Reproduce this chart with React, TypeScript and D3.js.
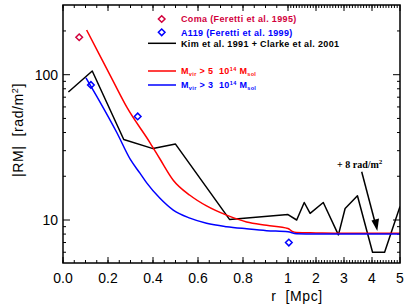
import React from 'react';
import * as d3 from 'd3';

// Kim et al. 1991 + Clarke et al. 2001 (observed |RM| profile)
const kimR = [0.024, 0.13, 0.27, 0.40, 0.50, 0.74, 1.0, 1.31, 1.58, 1.79, 2.26, 2.80, 3.04, 3.48, 4.02, 4.45, 5.0];
const kimRM = [76, 106, 35.8, 31, 33.3, 10.1, 10.9, 10.0, 13.2, 11.1, 13.2, 7.9, 12.0, 14.7, 6.0, 6.0, 12.4];

// simulated clusters, M_vir > 5 10^14 M_sol
const hiR = [0.105, 0.16, 0.22, 0.283, 0.387, 0.431, 0.49, 0.564, 0.638, 0.727, 0.816, 0.905, 1.0, 1.15, 1.3, 2, 3, 4, 5];
const hiRM = [203, 139, 92, 60, 34, 26.3, 18.8, 14.8, 12.5, 10.8, 9.7, 9.2, 8.75, 8.35, 8.2, 8.15, 8.1, 8.1, 8.1];

// simulated clusters, M_vir > 3 10^14 M_sol
const loR = [0.102, 0.164, 0.239, 0.30, 0.342, 0.372, 0.431, 0.49, 0.564, 0.638, 0.727, 0.816, 0.905, 1.0, 1.3, 2, 3, 4, 5];
const loRM = [95, 65, 40, 26, 21, 18, 14.1, 11.7, 10.3, 9.5, 9.0, 8.7, 8.45, 8.3, 8.05, 8.0, 8.0, 8.0, 8.0];

// point measurements
const comaR = [0.072];
const comaRM = [181];
const a119R = [0.124, 0.332, 1.03];
const a119RM = [85, 51.6, 7.0];

// axis ticks
const xMajor = [0, 0.2, 0.4, 0.6, 0.8, 1, 2, 3, 4, 5];
const xLabels = ['0.0', '0.2', '0.4', '0.6', '0.8', '1', '2', '3', '4', '5'];
const yMajor = [10, 100];
const yLabels = ['10', '100'];
const yMinor = [6, 7, 8, 9, 20, 30, 40, 50, 60, 70, 80, 90, 200];

const W = 407;
const H = 308;
const margin = { top: 5, right: 7, bottom: 45, left: 63 };
const COMA = '#d2003c';
const BLUE = '#0000ff';
const RED = '#ff0000';
const FONT = '"Liberation Sans", Arial, Helvetica, sans-serif';
const NB = '\u00a0';

const x = d3.scaleLinear().domain([0, 1, 5]).range([margin.left, 288, W - margin.right]);
const y = d3.scaleLog().domain([5.06, 301.7]).range([H - margin.bottom, margin.top]);

const xMinor = [...d3.range(0, 1, 0.05), ...d3.range(1, 5, 0.1)];

const line = d3.line<[number, number]>()
  .x(d => x(d[0]))
  .y(d => y(d[1]));

const smooth = d3.line<[number, number]>()
  .x(d => x(d[0]))
  .y(d => y(d[1]))
  .curve(d3.curveMonotoneX);

const zip = (a: number[], b: number[]) => a.map((v, i) => [v, b[i]] as [number, number]);

const Diamond = ({ cx, cy, color }: { cx: number; cy: number; color: string }) => {
  const s = 3.3;
  return (
    <path
      d={`M${cx},${cy - s}L${cx + s},${cy}L${cx},${cy + s}L${cx - s},${cy}Z`}
      fill="none"
      stroke={color}
      strokeWidth={1.5}
    />
  );
};

const MassLabel = ({ yy, color, m }: { yy: number; color: string; m: string }) => (
  <text x={181} y={yy} fill={color}>
    M<tspan dy={2} fontSize={5.5}>vir</tspan>
    <tspan dy={-2}>{` > ${m}${NB}${NB}10`}</tspan>
    <tspan dy={-3} fontSize={5.5}>14</tspan>
    <tspan dy={3}>{`${NB}M`}</tspan>
    <tspan dy={2} fontSize={5.5}>sol</tspan>
  </text>
);

const App = () => {
  const x0 = margin.left;
  const x1 = W - margin.right;
  const y0 = margin.top;
  const y1 = H - margin.bottom;

  return (
    <svg width={W} height={H} style={{ position: 'absolute', left: 0, top: 0, background: '#fff' }}>
      <defs>
        <clipPath id="plot">
          <rect x={x0} y={y0} width={x1 - x0} height={y1 - y0} />
        </clipPath>
      </defs>

      {/* ticks */}
      <g stroke="#000" strokeWidth={1}>
        {xMinor.map((v, i) => (
          <g key={'xm' + i}>
            <line x1={x(v)} x2={x(v)} y1={y1} y2={y1 - 3} />
            <line x1={x(v)} x2={x(v)} y1={y0} y2={y0 + 3} />
          </g>
        ))}
        {xMajor.map((v, i) => (
          <g key={'xM' + i}>
            <line x1={x(v)} x2={x(v)} y1={y1} y2={y1 - 6} />
            <line x1={x(v)} x2={x(v)} y1={y0} y2={y0 + 6} />
          </g>
        ))}
        {yMinor.map((v, i) => (
          <g key={'ym' + i}>
            <line x1={x0} x2={x0 + 3} y1={y(v)} y2={y(v)} />
            <line x1={x1} x2={x1 - 3} y1={y(v)} y2={y(v)} />
          </g>
        ))}
        {yMajor.map((v, i) => (
          <g key={'yM' + i}>
            <line x1={x0} x2={x0 + 7} y1={y(v)} y2={y(v)} />
            <line x1={x1} x2={x1 - 7} y1={y(v)} y2={y(v)} />
          </g>
        ))}
      </g>

      {/* data */}
      <g clipPath="url(#plot)" fill="none" strokeWidth={1.5} strokeLinejoin="round">
        <path d={line(zip(kimR, kimRM)) || ''} stroke="#000" />
        <path d={smooth(zip(hiR, hiRM)) || ''} stroke={RED} />
        <path d={smooth(zip(loR, loRM)) || ''} stroke={BLUE} />
      </g>
      {comaR.map((r, i) => (
        <Diamond key={'c' + i} cx={x(r)} cy={y(comaRM[i])} color={COMA} />
      ))}
      {a119R.map((r, i) => (
        <Diamond key={'a' + i} cx={x(r)} cy={y(a119RM[i])} color={BLUE} />
      ))}

      {/* frame */}
      <rect x={x0} y={y0} width={x1 - x0} height={y1 - y0} fill="none" stroke="#000" strokeWidth={1.5} />

      {/* tick labels */}
      <g fontFamily={FONT} fontSize={14} fill="#000">
        {xMajor.map((v, i) => (
          <text key={'xl' + i} x={x(v)} y={283} textAnchor="middle">{xLabels[i]}</text>
        ))}
        {yMajor.map((v, i) => (
          <text key={'yl' + i} x={58} y={y(v) + 5} textAnchor="end">{yLabels[i]}</text>
        ))}
        <text x={297} y={301} textAnchor="middle" letterSpacing={0.6}>{`r${NB}${NB}[Mpc]`}</text>
        <text transform="translate(23,130) rotate(-90)" textAnchor="middle" letterSpacing={0.6}>
          {`|RM|${NB}${NB}[rad/m`}<tspan dy={-5} fontSize={9}>2</tspan><tspan dy={5}>]</tspan>
        </text>
      </g>

      {/* legend */}
      <g fontFamily={FONT} fontSize={9} fontWeight="bold" letterSpacing={0.35}>
        <Diamond cx={161.7} cy={19} color={COMA} />
        <text x={181} y={22} fill={COMA}>Coma (Feretti et al. 1995)</text>
        <Diamond cx={161.7} cy={32.3} color={BLUE} />
        <text x={181} y={35.5} fill={BLUE}>A119 (Feretti et al. 1999)</text>
        <line x1={148} x2={176} y1={43.3} y2={43.3} stroke="#000" strokeWidth={1.5} />
        <text x={181} y={46.5} fill="#000">Kim et al. 1991 + Clarke et al. 2001</text>
        <line x1={148} x2={176} y1={71} y2={71} stroke={RED} strokeWidth={1.5} />
        <MassLabel yy={74} color={RED} m="5" />
        <line x1={148} x2={176} y1={85} y2={85} stroke={BLUE} strokeWidth={1.5} />
        <MassLabel yy={88} color={BLUE} m="3" />
      </g>

      {/* annotation */}
      <text x={337} y={168} fontFamily='"Liberation Serif", "Times New Roman", serif' fontSize={10} fontWeight="bold">
        + 8 rad/m<tspan dy={-4} fontSize={7}>2</tspan>
      </text>
      <line x1={361.7} y1={171.7} x2={374.8} y2={221.5} stroke="#000" strokeWidth={1.5} />
      <path d="M377.3,231 L371.5,220.5 L379,218.5 Z" fill="#000" />
    </svg>
  );
};

export default App;
